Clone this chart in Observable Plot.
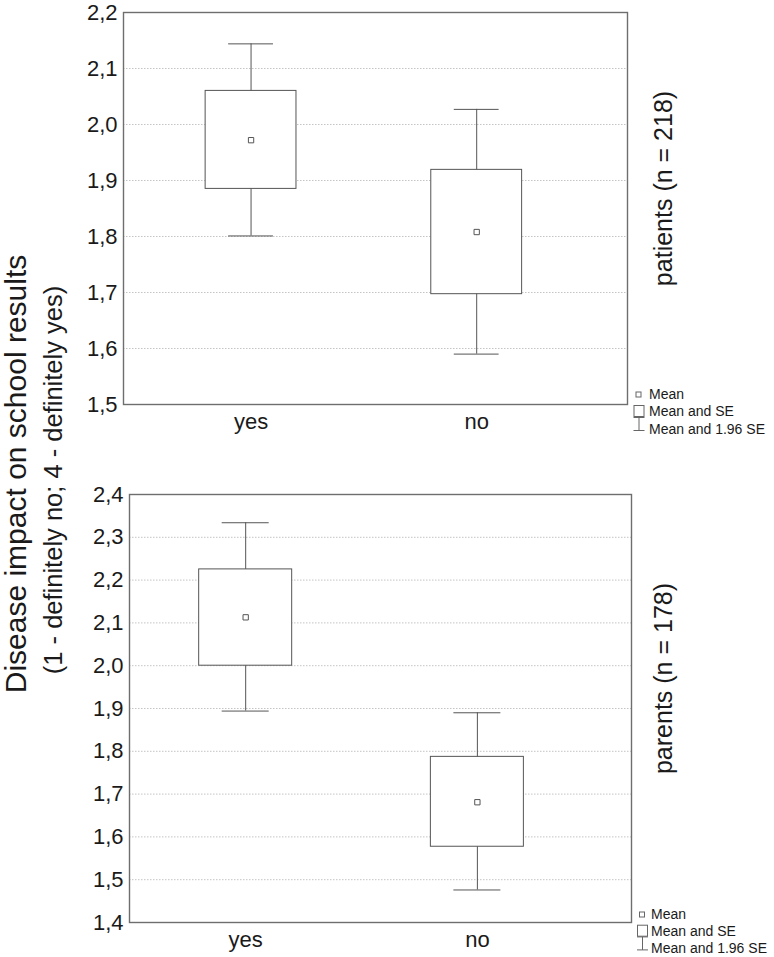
<!DOCTYPE html>
<html><head><meta charset="utf-8">
<script src="https://cdn.jsdelivr.net/npm/d3@7"></script>
<script src="https://cdn.jsdelivr.net/npm/@observablehq/plot@0.6"></script>
<style>
body{margin:0;background:#fff;}
#chart{position:relative;width:774px;height:957px;font-family:"Liberation Sans",Arial,sans-serif;}
#chart svg{position:absolute;left:0;}
</style></head><body><div id="chart"></div>
<script>
// ---- data ----
const groups = ["yes", "no"];

const patientsMean   = [1.972, 1.808];
const patientsSeLow  = [1.885, 1.697];
const patientsSeHigh = [2.060, 1.919];
const patientsCiLow  = [1.801, 1.590];
const patientsCiHigh = [2.144, 2.027];

const parentsMean   = [2.113, 1.681];
const parentsSeLow  = [2.000, 1.577];
const parentsSeHigh = [2.225, 1.787];
const parentsCiLow  = [1.894, 1.476];
const parentsCiHigh = [2.334, 1.890];

const patientsTicks = [1.5, 1.6, 1.7, 1.8, 1.9, 2.0, 2.1, 2.2];
const parentsTicks  = [1.4, 1.5, 1.6, 1.7, 1.8, 1.9, 2.0, 2.1, 2.2, 2.3, 2.4];

const patientsLabel = "patients (n = 218)";
const parentsLabel  = "parents (n = 178)";
const yTitle    = "Disease impact on school results";
const ySubtitle = "(1 - definitely no; 4 - definitely yes)";
const legendItems = ["Mean", "Mean and SE", "Mean and 1.96 SE"];

// ---- helpers ----
const FONT = "'Liberation Sans', Arial, sans-serif";
const fmt = d => d3.format(".1f")(d).replace(".", ",");
const INK = "#555";

function rowsOf(mean, seLow, seHigh, ciLow, ciHigh) {
  return groups.map((g, i) => ({group: g, mean: mean[i], seLow: seLow[i], seHigh: seHigh[i], ciLow: ciLow[i], ciHigh: ciHigh[i]}));
}

function panel({rows, ticks, label, height, margins, band, labelDx, labelDy}) {
  return Plot.plot({
    width: 774,
    height,
    marginTop: margins[0], marginRight: margins[1], marginBottom: margins[2], marginLeft: margins[3],
    style: {fontFamily: FONT, fontSize: "22px", color: "#1a1a1a", background: "transparent"},
    x: {type: "band", domain: groups, paddingInner: band[0], paddingOuter: band[1], align: band[2], round: false,
        label: null, tickSize: 0, tickPadding: 9},
    y: {domain: [ticks[0], ticks[ticks.length - 1]], nice: false, ticks, tickFormat: fmt,
        tickSize: 0, tickPadding: 6, label: null},
    marks: [
      Plot.ruleY(ticks.slice(1, -1), {stroke: "#c4c4c4", strokeDasharray: "1.5,1.5"}),
      Plot.ruleX(rows, {x: "group", y1: "ciLow", y2: "ciHigh", stroke: INK}),
      Plot.tickY(rows, {x: "group", y: "ciLow", insetLeft: 23, insetRight: 23, stroke: INK}),
      Plot.tickY(rows, {x: "group", y: "ciHigh", insetLeft: 23, insetRight: 23, stroke: INK}),
      Plot.barY(rows, {x: "group", y1: "seLow", y2: "seHigh", fill: "white", stroke: INK}),
      Plot.dot(rows, {x: "group", y: "mean", symbol: "square", r: 3, stroke: INK, fill: "white", strokeWidth: 1}),
      Plot.frame({stroke: "#6e6e6e", strokeWidth: 1.4}),
      Plot.text([label], {text: d => d, frameAnchor: "right", textAnchor: "middle", lineAnchor: "middle",
        dx: labelDx, dy: labelDy, rotate: -90, fontSize: 25, fill: "#1a1a1a"})
    ]
  });
}

const root = document.getElementById("chart");

const topPanel = panel({
  rows: rowsOf(patientsMean, patientsSeLow, patientsSeHigh, patientsCiLow, patientsCiHigh),
  ticks: patientsTicks, label: patientsLabel, height: 460,
  margins: [12, 147, 56, 123], band: [0.5974, 0.4155, 0.438], labelDx: 36, labelDy: -20
});
topPanel.style.top = "0px";
root.appendChild(topPanel);

const bottomPanel = panel({
  rows: rowsOf(parentsMean, parentsSeLow, parentsSeHigh, parentsCiLow, parentsCiHigh),
  ticks: parentsTicks, label: parentsLabel, height: 497,
  margins: [34, 143, 35, 129], band: [0.5986, 0.3826, 0.393], labelDx: 32, labelDy: -30
});
bottomPanel.style.top = "460px";
root.appendChild(bottomPanel);

// ---- overlay: shared y title and legends ----
const ov = d3.select(root).append("svg")
  .attr("width", 774).attr("height", 957)
  .style("top", "0px").style("pointer-events", "none")
  .attr("font-family", FONT);

ov.append("text").attr("transform", "translate(26,474) rotate(-90)")
  .attr("text-anchor", "middle").attr("font-size", 30).attr("fill", "#1a1a1a").text(yTitle);
ov.append("text").attr("transform", "translate(62,480) rotate(-90)")
  .attr("text-anchor", "middle").attr("font-size", 25.5).attr("fill", "#1a1a1a").text(ySubtitle);

function legend(iconLeft, textX, firstBaseline, step) {
  const g = ov.append("g");
  legendItems.forEach((t, i) => {
    const b = firstBaseline + i * step;
    if (i === 0) {
      g.append("rect").attr("x", iconLeft + 2.5).attr("y", b - 6.5).attr("width", 5).attr("height", 5)
        .attr("fill", "white").attr("stroke", "#666");
    } else if (i === 1) {
      g.append("rect").attr("x", iconLeft + 0.5).attr("y", b - 10.5).attr("width", 10).attr("height", 11)
        .attr("fill", "white").attr("stroke", "#666");
    } else {
      const cx = iconLeft + 5.5;
      g.append("path").attr("d", `M${iconLeft},${b - 16}H${iconLeft + 11}M${cx},${b - 16}V${b - 3}M${iconLeft},${b - 3}H${iconLeft + 11}`)
        .attr("stroke", "#666").attr("fill", "none");
    }
    g.append("text").attr("x", textX).attr("y", b).attr("font-size", 14).attr("fill", "#1a1a1a").text(t);
  });
}
legend(633.5, 649, 398.5, 17.5);
legend(637, 651, 918.5, 17.2);
</script>
</body></html>
